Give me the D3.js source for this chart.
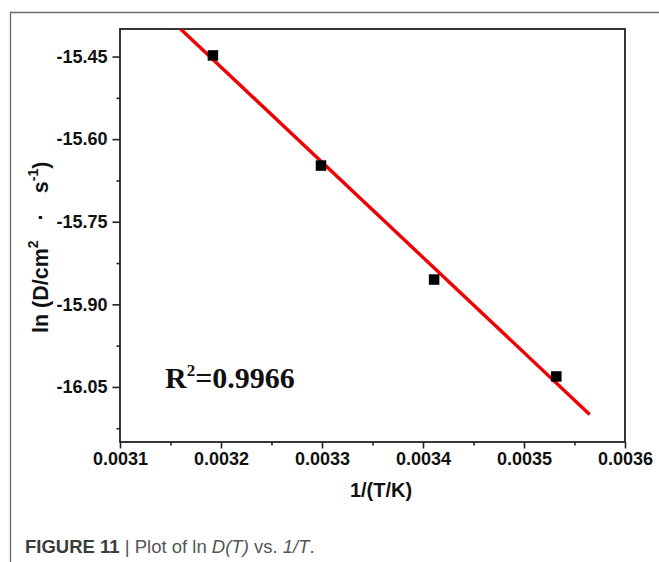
<!DOCTYPE html>
<html>
<head>
<meta charset="utf-8">
<script src="https://cdnjs.cloudflare.com/ajax/libs/d3/7.8.5/d3.min.js"></script>
<style>
  body { margin: 0; background: #fff; }
  svg { display: block; }
</style>
</head>
<body>
<div id="chart"></div>
<script>
// Data
var invT = [0.003192, 0.003299, 0.003411, 0.003532];
var lnD = [-15.448, -15.648, -15.855, -16.031];

// Fitted line end points
var fitX = [0.00316, 0.003565];
var fitY = [-15.40, -16.10];

// Tick values
var xMajor = [0.0031, 0.0032, 0.0033, 0.0034, 0.0035, 0.0036];
var xMinor = [0.00315, 0.00325, 0.00335, 0.00345, 0.00355];
var yMajor = [-15.45, -15.60, -15.75, -15.90, -16.05];
var yMinor = [-15.525, -15.675, -15.825, -15.975, -16.125];

var r2Text = "0.9966";

// Margin conventions
var W = 659, H = 562;
var margin = {top: 29, right: 34, bottom: 120, left: 120};
var width = W - margin.left - margin.right,
    height = H - margin.top - margin.bottom;

var svg = d3.select("#chart")
            .append("svg")
            .attr("width", W)
            .attr("height", H);

// Outer figure frame (top and left only)
svg.append("path")
   .attr("d", "M10.5," + H + "V12.5H" + W)
   .attr("fill", "none")
   .attr("stroke", "#6a6a6a")
   .attr("stroke-width", 1.3);

var g = svg.append("g")
           .attr("transform", "translate(" + margin.left + "," + margin.top + ")");

// Creates the xScale
var xScale = d3.scaleLinear()
  .domain([0.0031, 0.0036])
  .range([0, width]);

// Creates the yScale
var yScale = d3.scaleLinear()
  .domain([-16.15, -15.40])
  .range([height, 0]);

var axisFont = "'Liberation Sans', Arial, sans-serif";

// Minor ticks
g.append("g")
 .attr("transform", "translate(0," + height + ")")
 .call(d3.axisBottom(xScale).tickValues(xMinor).tickSize(3.5).tickFormat(""));
g.append("g")
 .call(d3.axisLeft(yScale).tickValues(yMinor).tickSize(3.5).tickFormat(""));

// Major axes
var xAxisGroup = g.append("g")
  .attr("class", "x axis")
  .attr("transform", "translate(0," + height + ")")
  .call(d3.axisBottom(xScale)
          .tickValues(xMajor)
          .tickSize(6.5)
          .tickPadding(4)
          .tickFormat(d3.format(".4f")));

var yAxisGroup = g.append("g")
  .attr("class", "y axis")
  .call(d3.axisLeft(yScale)
          .tickValues(yMajor)
          .tickSize(7.5)
          .tickPadding(5)
          .tickFormat(function(d) { return d.toFixed(2); }));

g.selectAll(".tick text")
 .attr("font-family", axisFont)
 .attr("font-weight", "bold")
 .attr("font-size", 18)
 .attr("fill", "#111");

g.selectAll(".domain").remove();
g.selectAll(".tick line")
 .attr("stroke", "#222")
 .attr("stroke-width", 1.6);

// Plot box
g.append("rect")
 .attr("x", 0)
 .attr("y", 0)
 .attr("width", width)
 .attr("height", height)
 .attr("fill", "none")
 .attr("stroke", "#222")
 .attr("stroke-width", 1.8);

// Fit line
g.append("clipPath").attr("id", "plotclip")
 .append("rect").attr("width", width).attr("height", height);

g.append("line")
 .attr("clip-path", "url(#plotclip)")
 .attr("x1", xScale(fitX[0]))
 .attr("y1", yScale(fitY[0]))
 .attr("x2", xScale(fitX[1]))
 .attr("y2", yScale(fitY[1]))
 .attr("stroke", "#f00000")
 .attr("stroke-width", 3.4);

// Data squares
var sq = 10.5;
g.selectAll("rect.pt")
 .data(invT)
 .enter()
 .append("rect")
 .attr("class", "pt")
 .attr("x", function(d) { return xScale(d) - sq / 2; })
 .attr("y", function(d, i) { return yScale(lnD[i]) - sq / 2; })
 .attr("width", sq)
 .attr("height", sq)
 .attr("fill", "#000");

// R squared label
var r2 = g.append("text")
  .attr("x", 45)
  .attr("y", 359)
  .attr("font-family", "'Liberation Serif', 'Times New Roman', serif")
  .attr("font-weight", "bold")
  .attr("font-size", 30)
  .attr("fill", "#111");
r2.append("tspan").text("R");
r2.append("tspan").attr("font-size", 17).attr("dy", -12).text("2");
r2.append("tspan").attr("dy", 12).text("=" + r2Text);

// X axis title
svg.append("text")
   .attr("x", 381)
   .attr("y", 497)
   .attr("text-anchor", "middle")
   .attr("font-family", axisFont)
   .attr("font-weight", "bold")
   .attr("font-size", 20)
   .attr("fill", "#111")
   .text("1/(T/K)");

// Y axis title
var yt = svg.append("text")
  .attr("transform", "translate(48,333) rotate(-90)")
  .attr("font-family", axisFont)
  .attr("font-weight", "bold")
  .attr("font-size", 21.5)
  .attr("fill", "#111");
yt.append("tspan").text("ln (D/cm");
yt.append("tspan").attr("font-size", 14).attr("dy", -10).text("2");
yt.append("tspan").attr("dx", 20).attr("dy", 10).text("\u00b7");
yt.append("tspan").attr("dx", 20).text("s");
yt.append("tspan").attr("font-size", 14).attr("dy", -10).text("-1");
yt.append("tspan").attr("dy", 10).text(")");

// Caption
var cap = svg.append("text")
  .attr("x", 25)
  .attr("y", 553)
  .attr("font-family", axisFont)
  .attr("font-size", 18.5)
  .attr("fill", "#555");
cap.append("tspan").attr("font-weight", "bold").attr("fill", "#3c3c3c").text("FIGURE 11");
cap.append("tspan").text(" | Plot of ln ");
cap.append("tspan").attr("font-style", "italic").text("D(T)");
cap.append("tspan").text(" vs. ");
cap.append("tspan").attr("font-style", "italic").text("1/T");
cap.append("tspan").text(".");
</script>
</body>
</html>
